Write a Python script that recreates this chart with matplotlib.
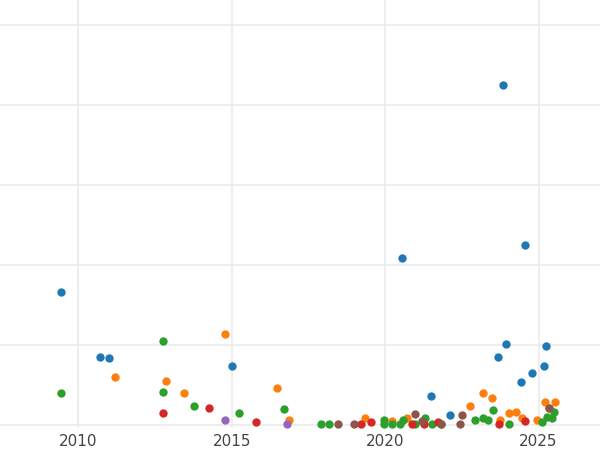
import matplotlib.pyplot as plt

blue_x = [2009.45, 2010.72, 2011.01, 2015.02, 2020.55, 2023.84, 2024.56, 2023.68, 2023.94,
          2021.50, 2024.43, 2024.79, 2025.18, 2025.24, 2022.12]
blue_y = [1.66, 0.85, 0.83, 0.74, 2.09, 4.25, 2.25, 0.85, 1.01, 0.36, 0.53, 0.65, 0.74, 0.98, 0.12]

orange_x = [2011.2, 2012.87, 2013.45, 2014.79, 2016.48, 2016.87, 2019.35, 2020.23, 2020.72, 2022.77,
            2023.19, 2023.49, 2023.75, 2024.04, 2024.27, 2024.46, 2024.95, 2025.21, 2025.54, 2025.34]
orange_y = [0.6, 0.55, 0.4, 1.14, 0.46, 0.06, 0.08, 0.05, 0.09, 0.24,
            0.4, 0.34, 0.06, 0.15, 0.16, 0.09, 0.06, 0.29, 0.29, 0.21]

green_x = [2009.45, 2012.77, 2012.77, 2013.78, 2015.24, 2016.71, 2017.92, 2018.18, 2019.97, 2019.97,
           2020.23, 2020.49, 2020.59, 2020.98, 2021.30, 2021.53, 2021.82, 2022.93, 2023.19, 2023.36,
           2023.52, 2024.04, 2025.11, 2025.28, 2025.5, 2025.44]
green_y = [0.4, 1.05, 0.41, 0.24, 0.15, 0.2, 0.01, 0.01, 0.06, 0.01,
           0.01, 0.01, 0.06, 0.01, 0.09, 0.01, 0.01, 0.06, 0.09, 0.06,
           0.19, 0.01, 0.04, 0.1, 0.16, 0.08]

red_x = [2012.77, 2014.27, 2015.8, 2019.22, 2019.54, 2020.88, 2021.73, 2023.71, 2024.56, 2021.27]
red_y = [0.15, 0.21, 0.03, 0.01, 0.03, 0.01, 0.03, 0.01, 0.05, 0.01]

purple_x = [2014.79, 2016.81]
purple_y = [0.06, 0.01]

brown_x = [2018.47, 2018.99, 2020.98, 2022.51, 2021.2, 2021.82, 2022.44, 2025.34]
brown_y = [0.01, 0.01, 0.14, 0.12, 0.05, 0.01, 0.01, 0.21]

fig = plt.figure(figsize=(6, 4.5), dpi=100)
ax = fig.add_axes([0, 22 / 450, 1, 428 / 450])

series = [(blue_x, blue_y, '#1f77b4'), (orange_x, orange_y, '#ff7f0e'),
          (green_x, green_y, '#2ca02c'), (red_x, red_y, '#d62728'),
          (purple_x, purple_y, '#9467bd'), (brown_x, brown_y, '#8c564b')]
for xs, ys, c in series:
    ax.scatter(xs, ys, s=36, color=c, zorder=3, linewidths=0)

ax.set_xlim(2007.45, 2027.0)
ax.set_ylim(-0.04, 5.31)
ax.set_xticks([2010, 2015, 2020, 2025])
ax.set_yticks([0, 1, 2, 3, 4, 5])
ax.set_yticklabels([])
ax.grid(True, color='#ebebeb', linewidth=1.2)
ax.set_axisbelow(True)
for s in ax.spines.values():
    s.set_visible(False)
ax.tick_params(length=0, labelsize=11, labelcolor='#444444', pad=4)

fig.savefig('out.png', dpi=100)
